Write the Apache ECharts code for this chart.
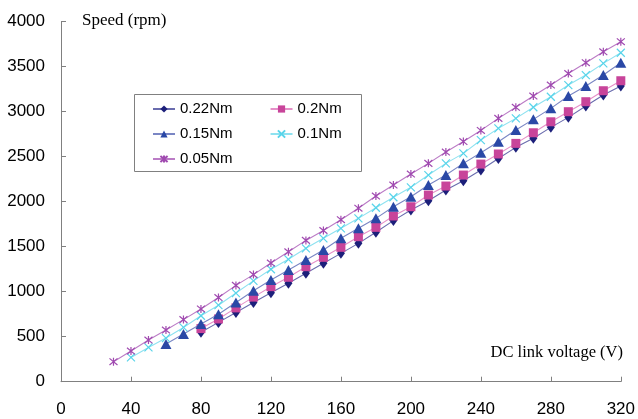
<!DOCTYPE html>
<html>
<head>
<meta charset="utf-8">
<script src="https://cdn.jsdelivr.net/npm/echarts@6/dist/echarts.min.js"></script>
<style>
  html, body { margin: 0; padding: 0; background: #fff; }
  #chart { width: 638px; height: 419px; }
</style>
</head>
<body>
<div id="chart"></div>
<script>
// DC link voltage (V) for every sample column
const voltage = [30, 40, 50, 60, 70, 80, 90, 100, 110, 120, 130, 140, 150, 160, 170,
                 180, 190, 200, 210, 220, 230, 240, 250, 260, 270, 280, 290, 300, 310, 320];

// Motor speed (rpm) per load torque; null where the load was not measured
const speed022 = [null, null, null, null, null, 550, 659, 770, 880, 989, 1095, 1204, 1315, 1426, 1537,
                  1660, 1790, 1908, 2011, 2130, 2233, 2352, 2480, 2604, 2704, 2826, 2937, 3063, 3185, 3285];
const speed02  = [null, null, null, null, null, 590, 697, 820, 940, 1056, 1160, 1278, 1382, 1493, 1611,
                  1715, 1841, 1944, 2074, 2174, 2296, 2418, 2530, 2648, 2766, 2888, 3000, 3111, 3233, 3344];
const speed015 = [null, null, null, 420, 530, 640, 750, 880, 1011, 1130, 1240, 1352, 1463, 1593, 1704,
                  1815, 1944, 2055, 2185, 2296, 2426, 2544, 2666, 2796, 2915, 3037, 3174, 3285, 3407, 3544];
const speed01  = [null, 270, 381, 485, 603, 733, 850, 985, 1120, 1249, 1360, 1482, 1593, 1704, 1815,
                  1933, 2049, 2160, 2296, 2426, 2537, 2685, 2815, 2926, 3049, 3166, 3296, 3407, 3537, 3655];
const speed005 = [222, 341, 463, 574, 690, 808, 935, 1070, 1190, 1318, 1443, 1570, 1680, 1800, 1928,
                  2063, 2185, 2307, 2426, 2552, 2668, 2792, 2926, 3049, 3174, 3296, 3424, 3544, 3666, 3778];

const seriesNames = ['0.22Nm', '0.2Nm', '0.15Nm', '0.1Nm', '0.05Nm'];
const xTicks = [0, 40, 80, 120, 160, 200, 240, 280, 320];
const yTicks = [0, 500, 1000, 1500, 2000, 2500, 3000, 3500, 4000];

function pairs(values) {
  const out = [];
  values.forEach((v, i) => { if (v !== null) out.push([voltage[i], v]); });
  return out;
}

const crossPath = 'path://M0 0 L10 10 M10 0 L0 10';
const starPath = 'path://M0 0 L10 10 M10 0 L0 10 M5 -1 L5 11';

const styles = [
  { symbol: 'diamond', size: [8, 11], fill: '#1c1f7a', line: '#6a6cae', border: 0 },
  { symbol: 'rect', size: 9, fill: '#c8449a', line: '#e590c8', border: 0 },
  { symbol: 'triangle', size: [11, 10], fill: '#2a48a6', line: '#7a86c4', border: 0 },
  { symbol: crossPath, size: 8, fill: '#58d4ea', line: '#8ee2f0', border: 1.2 },
  { symbol: starPath, size: 8, fill: '#a04ab0', line: '#bb7cc6', border: 1.2 }
];
const dataSets = [speed022, speed02, speed015, speed01, speed005];

const series = seriesNames.map((name, k) => {
  const st = styles[k];
  return {
    name: name,
    type: 'line',
    data: pairs(dataSets[k]),
    symbol: st.symbol,
    symbolSize: st.size,
    showAllSymbol: true,
    lineStyle: { color: st.line, width: 1.1 },
    itemStyle: {
      color: st.fill,
      borderColor: st.fill,
      borderWidth: st.border
    },
    emphasis: { disabled: true },
    z: 2 + k
  };
});

const legendText = { fontFamily: 'Liberation Sans, Arial, sans-serif', fontSize: 15, color: '#000', lineHeight: 16 };
function legendRow(names, top) {
  return {
    data: names,
    left: 152,
    top: top,
    orient: 'horizontal',
    padding: 0,
    itemWidth: 22,
    itemHeight: 9,
    itemGap: 37,
    textStyle: legendText,
    selectedMode: false,
    z: 10
  };
}

const axisLabelFont = { fontFamily: 'Liberation Sans, Arial, sans-serif', fontSize: 17, color: '#000' };
const chart = echarts.init(document.getElementById('chart'), null, { renderer: 'canvas' });

chart.setOption({
  backgroundColor: '#ffffff',
  animation: false,
  grid: { left: 61, right: 17, top: 21.7, bottom: 37.3, containLabel: false },
  legend: [
    legendRow([seriesNames[0], seriesNames[1]], 101),
    legendRow([seriesNames[2], seriesNames[3]], 126),
    legendRow([seriesNames[4]], 151)
  ],
  xAxis: {
    type: 'value',
    min: xTicks[0],
    max: xTicks[xTicks.length - 1],
    interval: 40,
    axisLine: { lineStyle: { color: '#808080', width: 1 } },
    axisTick: { inside: true, length: 5, lineStyle: { color: '#808080' } },
    axisLabel: Object.assign({ margin: 19, formatter: v => String(v) }, axisLabelFont),
    splitLine: { show: false }
  },
  yAxis: {
    type: 'value',
    min: yTicks[0],
    max: yTicks[yTicks.length - 1],
    interval: 500,
    axisLine: { show: true, lineStyle: { color: '#808080', width: 1 } },
    axisTick: { show: true, inside: true, length: 5, lineStyle: { color: '#808080' } },
    axisLabel: Object.assign({ margin: 16, formatter: v => String(v) }, axisLabelFont),
    splitLine: { show: false }
  },
  graphic: [
    {
      type: 'rect',
      shape: { x: 134.5, y: 94.5, width: 227, height: 77 },
      style: { fill: '#ffffff', stroke: '#808080', lineWidth: 1 },
      z: 5
    },
    {
      type: 'text',
      left: 82,
      top: 12,
      style: { text: 'Speed (rpm)', font: '17px "Liberation Serif", "Times New Roman", serif', fill: '#000' },
      z: 6
    },
    {
      type: 'text',
      right: 15,
      top: 344,
      style: { text: 'DC link voltage (V)', font: '16.5px "Liberation Serif", "Times New Roman", serif', fill: '#000' },
      z: 6
    }
  ],
  series: series
});
</script>
</body>
</html>
